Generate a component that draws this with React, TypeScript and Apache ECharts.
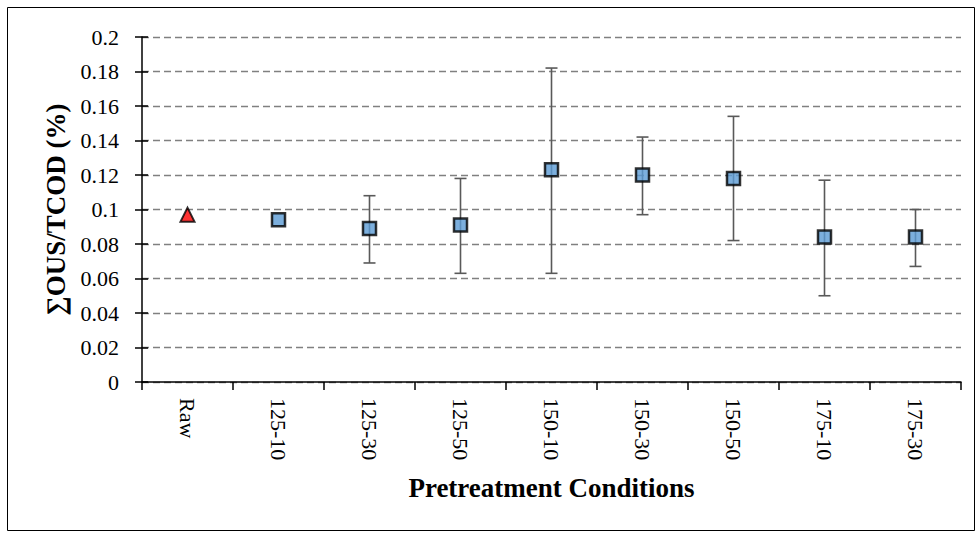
import React, { useEffect, useRef } from "react";
import * as echarts from "echarts";

const categories = ["Raw", "125-10", "125-30", "125-50", "150-10", "150-30", "150-50", "175-10", "175-30"];
const means = [0.097, 0.094, 0.089, 0.091, 0.123, 0.12, 0.118, 0.084, 0.084];
const lower: (number | null)[] = [null, null, 0.069, 0.063, 0.063, 0.097, 0.082, 0.050, 0.067];
const upper: (number | null)[] = [null, null, 0.108, 0.118, 0.182, 0.142, 0.154, 0.117, 0.100];
const yTicks = [0, 0.02, 0.04, 0.06, 0.08, 0.1, 0.12, 0.14, 0.16, 0.18, 0.2];

export default function App() {
  const ref = useRef<HTMLDivElement>(null);
  useEffect(() => {
    document.body.style.margin = "0";
    const chart = echarts.init(ref.current!, null, { renderer: "svg" });
    const serif = "Liberation Serif";
    const rawData = means.map((v, i) => (i === 0 ? v : null));
    const sqData = means.map((v, i) => (i === 0 ? null : v));
    const errData = categories
      .map((c, i) => [i, lower[i], upper[i]])
      .filter((d) => d[1] != null && d[2] != null);
    const fmt = (v: number) => {
      const t = yTicks.find((x) => Math.abs(x - v) < 1e-9);
      return String(+(t ?? v).toFixed(2));
    };
    chart.setOption({
      animation: false,
      textStyle: { fontFamily: serif, color: "#000" },
      graphic: [
        {
          type: "rect",
          shape: { x: 7.5, y: 7.5, width: 967, height: 523 },
          style: { fill: "none", stroke: "#000", lineWidth: 1 },
          silent: true,
        },
      ],
      grid: { left: 142, top: 37, width: 819, height: 345 },
      xAxis: {
        type: "category",
        data: categories,
        boundaryGap: true,
        axisLine: { lineStyle: { color: "#000", width: 1.5 } },
        axisTick: { show: true, length: 8, lineStyle: { color: "#000", width: 1.5 } },
        axisLabel: {
          rotate: -90,
          margin: 16,
          color: "#000",
          fontFamily: serif,
          fontSize: 22,
          interval: 0,
        },
        name: "Pretreatment Conditions",
        nameLocation: "middle",
        nameGap: 106,
        nameMoveOverlap: false,
        nameTextStyle: {
          fontFamily: serif,
          fontSize: 27,
          fontWeight: "bold",
          color: "#000",
          verticalAlign: "middle",
        },
      },
      yAxis: [
        {
          type: "value",
          min: 0,
          max: 0.2,
          interval: 0.02,
          axisLine: { show: true, lineStyle: { color: "#000", width: 1.5 } },
          axisTick: { show: true, length: 7, lineStyle: { color: "#000", width: 1.5 } },
          axisLabel: {
            color: "#000",
            fontFamily: serif,
            fontSize: 22,
            margin: 23,
            formatter: fmt,
          },
          splitLine: { show: true, lineStyle: { color: "#808080", width: 1.3, type: [7, 4] } },
          name: "∑OUS/TCOD (%)",
          nameLocation: "middle",
          nameGap: 86,
          nameMoveOverlap: false,
          nameTextStyle: {
            fontFamily: serif,
            fontSize: 27,
            fontWeight: "bold",
            color: "#000",
            verticalAlign: "middle",
          },
        },
        {
          type: "value",
          position: "left",
          min: 0,
          max: 0.2,
          interval: 0.02,
          axisLine: { show: false },
          axisTick: { show: true, inside: true, length: 6, lineStyle: { color: "#000", width: 1.5 } },
          axisLabel: { show: false },
          splitLine: { show: false },
        },
      ],
      series: [
        {
          type: "custom",
          z: 1,
          data: errData,
          renderItem: (params: any, api: any) => {
            const x = api.value(0);
            const lo = api.coord([x, api.value(1)]);
            const hi = api.coord([x, api.value(2)]);
            const style = { stroke: "#595959", lineWidth: 1.6 };
            const hw = 6;
            return {
              type: "group",
              children: [
                { type: "line", shape: { x1: lo[0], y1: lo[1], x2: hi[0], y2: hi[1] }, style },
                { type: "line", shape: { x1: lo[0] - hw, y1: lo[1], x2: lo[0] + hw, y2: lo[1] }, style },
                { type: "line", shape: { x1: hi[0] - hw, y1: hi[1], x2: hi[0] + hw, y2: hi[1] }, style },
              ],
            };
          },
        },
        {
          type: "scatter",
          z: 3,
          data: rawData,
          symbol: "triangle",
          symbolSize: 14,
          itemStyle: { color: "#FF0000", borderColor: "#000", borderWidth: 2 },
        },
        {
          type: "scatter",
          z: 3,
          data: sqData,
          symbol: "rect",
          symbolSize: 13,
          itemStyle: { color: "#5B9BD5", borderColor: "#000", borderWidth: 2.5 },
        },
      ],
    });
    return () => chart.dispose();
  }, []);
  return <div ref={ref} style={{ width: 977, height: 533 }} />;
}
